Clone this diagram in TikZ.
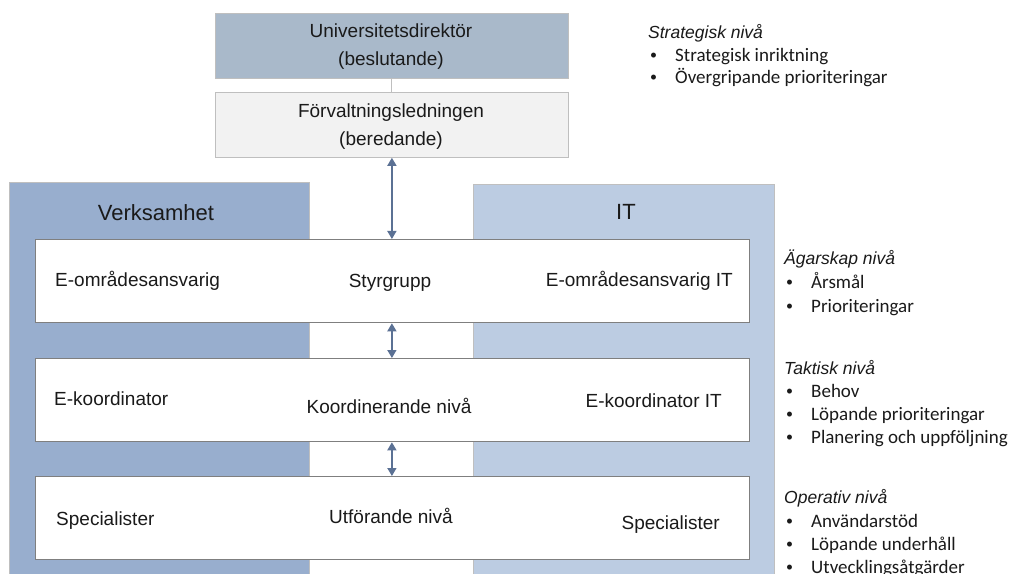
\documentclass[tikz,border=0pt]{standalone}
\usepackage{fontspec}
\setmainfont{Liberation Sans}
\newfontfamily\calfont{Carlito}
\usetikzlibrary{arrows.meta}
\definecolor{topfill}{HTML}{A9B9CA}
\definecolor{grayfill}{HTML}{F2F2F2}
\definecolor{lightborder}{HTML}{BFBFBF}
\definecolor{verkfill}{HTML}{98AECE}
\definecolor{itfill}{HTML}{BCCCE2}
\definecolor{boxborder}{HTML}{7F7F7F}
\definecolor{arrowcol}{HTML}{5B7194}
\definecolor{txt}{HTML}{1A1A1A}
\tikzset{
  topbox/.style={draw=lightborder, line width=0.8bp, inner sep=0pt, anchor=north west},
  panel/.style={draw=lightborder, line width=0.8bp, inner sep=0pt, anchor=north west},
  levelbox/.style={draw=boxborder, fill=white, line width=1.3bp, inner sep=0pt, anchor=north west, minimum width=714bp, minimum height=83bp},
  lbl/.style={inner sep=0pt, text=txt, font=\fontsize{19bp}{22bp}\selectfont},
  biglbl/.style={inner sep=0pt, text=txt, font=\fontsize{22bp}{26bp}\selectfont},
  head/.style={inner sep=0pt, anchor=base west, text=txt, font=\fontsize{17.5bp}{21bp}\selectfont\itshape},
  item/.style={inner sep=0pt, anchor=base west, text=txt, font=\calfont\fontsize{19bp}{22bp}\selectfont},
  bul/.style={inner sep=0pt, anchor=base west, text=txt, font=\calfont\fontsize{14bp}{16bp}\selectfont},
  dbl/.style={draw=arrowcol, line width=1.5bp, {Triangle[width=9bp,length=8bp]}-{Triangle[width=9bp,length=8bp]}},
  link/.style={draw=lightborder, line width=1.1bp}
}
\begin{document}
\begin{tikzpicture}[x=1bp,y=-1bp]
\useasboundingbox (0,0) rectangle (1015,574);
\fill[white] (0,0) rectangle (1015,574);
% panels
\node[panel, fill=verkfill, minimum width=300bp, minimum height=400bp] (verk) at (9,182) {};
\node[panel, fill=itfill, minimum width=301bp, minimum height=400bp] (it) at (473,184) {};
\node[biglbl, anchor=base] (verkl) at (156,221) {Verksamhet};
\node[biglbl, anchor=base] (itl) at (626,220) {IT};
% top boxes
\node[topbox, fill=topfill, minimum width=353bp, minimum height=65bp] (ud) at (215,13) {};
\node[topbox, fill=grayfill, minimum width=353bp, minimum height=65bp] (fl) at (215,92) {};
\node[lbl, anchor=base] (udt1) at (391,38) {Universitetsdirektör};
\node[lbl, anchor=base] (udt2) at (391,66) {(beslutande)};
\node[lbl, anchor=base] (flt1) at (391,118) {Förvaltningsledningen};
\node[lbl, anchor=base] (flt2) at (391,146) {(beredande)};
% level boxes
\node[levelbox] (sg) at (35,239) {};
\node[levelbox] (kn) at (35,358) {};
\node[levelbox] (un) at (35,476) {};
% connectors
\draw[link] (ud.south) -- (fl.north);
\draw[dbl] (fl.south) -- (sg.north -| fl.south);
\draw[dbl] (sg.south -| fl.south) -- (kn.north -| fl.south);
\draw[dbl] (kn.south -| fl.south) -- (un.north -| fl.south);
% row texts
\node[lbl, anchor=base west] (r1a) at (55,287) {E-områdesansvarig};
\node[lbl, anchor=base] (r1b) at (390,288) {Styrgrupp};
\node[lbl, anchor=base east] (r1c) at (733,287) {E-områdesansvarig IT};
\node[lbl, anchor=base west] (r2a) at (54,405) {E-koordinator};
\node[lbl, anchor=base] (r2b) at (389,413) {Koordinerande nivå};
\node[lbl, anchor=base east] (r2c) at (722,407) {E-koordinator IT};
\node[lbl, anchor=base west] (r3a) at (56,525) {Specialister};
\node[lbl, anchor=base] (r3b) at (391,523) {Utförande nivå};
\node[lbl, anchor=base east] (r3c) at (720,529) {Specialister};
% right side: strategic
\node[head] (h1) at (648,39) {Strategisk nivå};
\node[bul] (b11) at (650,60) {•};
\node[item] (i11) at (675,62) {Strategisk inriktning};
\node[bul] (b12) at (650,82) {•};
\node[item] (i12) at (675,84) {Övergripande prioriteringar};
% ownership
\node[head] (h2) at (784,265) {Ägarskap nivå};
\node[bul] (b21) at (786,287) {•};
\node[item] (i21) at (811,289) {Årsmål};
\node[bul] (b22) at (786,310) {•};
\node[item] (i22) at (811,312) {Prioriteringar};
% tactical
\node[head] (h3) at (784,374) {Taktisk nivå};
\node[bul] (b31) at (786,395) {•};
\node[item] (i31) at (811,397) {Behov};
\node[bul] (b32) at (786,418) {•};
\node[item] (i32) at (811,420) {Löpande prioriteringar};
\node[bul] (b33) at (786,441) {•};
\node[item] (i33) at (811,443) {Planering och uppföljning};
% operative
\node[head] (h4) at (784,503) {Operativ nivå};
\node[bul] (b41) at (786,525) {•};
\node[item] (i41) at (811,527) {Användarstöd};
\node[bul] (b42) at (786,548) {•};
\node[item] (i42) at (811,550) {Löpande underhåll};
\node[bul] (b43) at (786,571) {•};
\node[item] (i43) at (811,573) {Utvecklingsåtgärder};
\end{tikzpicture}
\end{document}
